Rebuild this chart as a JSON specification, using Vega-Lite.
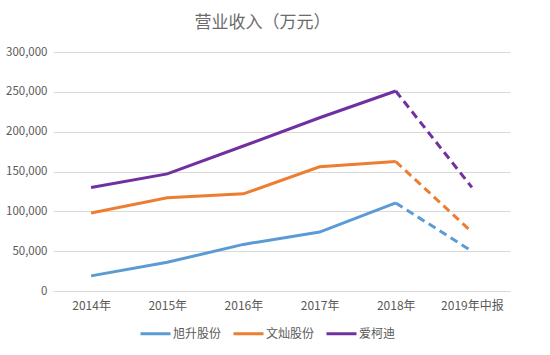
{
  "$schema": "https://vega.github.io/schema/vega-lite/v6.json",
  "autosize": {"type": "none"},
  "width": 457,
  "height": 239,
  "padding": {"left": 53, "top": 52, "right": 40, "bottom": 64},
  "background": "white",
  "title": {
    "text": "营业收入（万元）",
    "font": "Noto Sans CJK SC",
    "fontSize": 17,
    "fontWeight": "normal",
    "color": "#6b6b6b",
    "anchor": "middle",
    "dx": -19,
    "offset": 14
  },
  "config": {
    "view": {"stroke": null},
    "font": "Noto Sans CJK SC",
    "axis": {
      "labelFont": "Noto Sans CJK SC",
      "labelColor": "#595959",
      "ticks": false,
      "title": null
    },
    "legend": {
      "labelFont": "Noto Sans CJK SC",
      "labelColor": "#595959",
      "labelFontSize": 12
    }
  },
  "data": {
    "values": [
      {"年份": "2014年", "公司": "旭升股份", "营业收入": 19000},
      {"年份": "2015年", "公司": "旭升股份", "营业收入": 36000},
      {"年份": "2016年", "公司": "旭升股份", "营业收入": 58500},
      {"年份": "2017年", "公司": "旭升股份", "营业收入": 74000},
      {"年份": "2018年", "公司": "旭升股份", "营业收入": 110500},
      {"年份": "2019年中报", "公司": "旭升股份", "营业收入": 50000},
      {"年份": "2014年", "公司": "文灿股份", "营业收入": 98000},
      {"年份": "2015年", "公司": "文灿股份", "营业收入": 117000},
      {"年份": "2016年", "公司": "文灿股份", "营业收入": 122000},
      {"年份": "2017年", "公司": "文灿股份", "营业收入": 156000},
      {"年份": "2018年", "公司": "文灿股份", "营业收入": 162500},
      {"年份": "2019年中报", "公司": "文灿股份", "营业收入": 74000},
      {"年份": "2014年", "公司": "爱柯迪", "营业收入": 130000},
      {"年份": "2015年", "公司": "爱柯迪", "营业收入": 147000},
      {"年份": "2016年", "公司": "爱柯迪", "营业收入": 182000},
      {"年份": "2017年", "公司": "爱柯迪", "营业收入": 217500},
      {"年份": "2018年", "公司": "爱柯迪", "营业收入": 251000},
      {"年份": "2019年中报", "公司": "爱柯迪", "营业收入": 130000}
    ]
  },
  "encoding": {
    "x": {
      "field": "年份",
      "type": "ordinal",
      "sort": ["2014年", "2015年", "2016年", "2017年", "2018年", "2019年中报"],
      "scale": {"type": "point", "padding": 0.5},
      "axis": {"labelAngle": 0, "labelFontSize": 12, "domain": true, "domainColor": "#d9d9d9", "grid": false, "labelPadding": 9}
    },
    "y": {
      "field": "营业收入",
      "type": "quantitative",
      "scale": {"domain": [0, 300000]},
      "axis": {"values": [0, 50000, 100000, 150000, 200000, 250000, 300000], "format": ",d", "labelFontSize": 11.5, "domain": false, "gridColor": "#d9d9d9", "labelPadding": 6}
    },
    "color": {
      "field": "公司",
      "type": "nominal",
      "scale": {"domain": ["旭升股份", "文灿股份", "爱柯迪"], "range": ["#5B9BD5", "#ED7D31", "#7030A0"]},
      "legend": {
        "orient": "none",
        "legendX": 86,
        "legendY": 265,
        "direction": "horizontal",
        "title": null,
        "symbolType": "stroke",
        "symbolStrokeWidth": 3,
        "symbolSize": 900,
        "columnPadding": 5,
        "labelOffset": 1
      }
    }
  },
  "layer": [
    {
      "transform": [{"filter": "datum['年份'] != '2019年中报'"}],
      "mark": {"type": "line", "strokeWidth": 3}
    },
    {
      "transform": [{"filter": "datum['年份'] == '2018年' || datum['年份'] == '2019年中报'"}],
      "mark": {"type": "line", "strokeWidth": 3, "strokeDash": [8, 5]}
    }
  ]
}
